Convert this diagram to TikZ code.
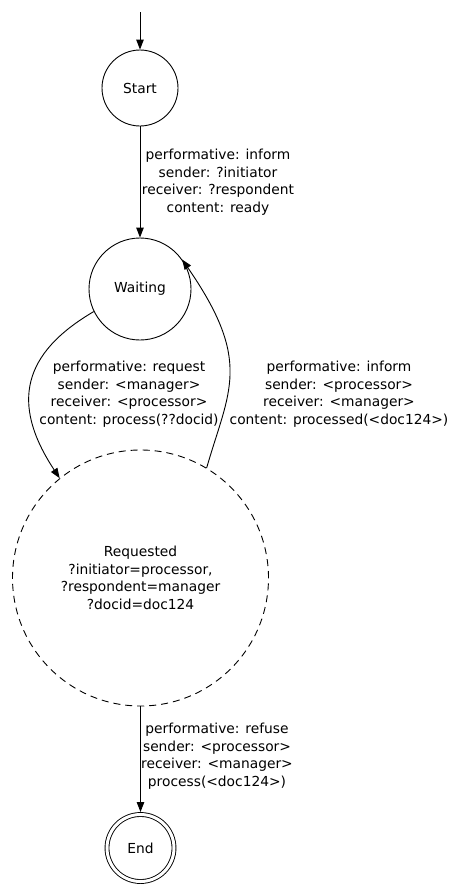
\documentclass[tikz,border=0pt]{standalone}
\usepackage{fontspec}
\setmainfont{DejaVu Sans}
\usetikzlibrary{arrows.meta}
\begin{document}
\begin{tikzpicture}[x=1pt,y=-1pt,
  every node/.style={font=\fontsize{13.8}{17.6}\selectfont},
  state/.style={circle,draw,line width=0.9pt,inner sep=0pt},
  lbl/.style={align=center,inner sep=0pt},
  edge/.style={line width=0.9pt,-{Triangle[length=10pt,width=7.5pt]}}]
\useasboundingbox (0,0) rectangle (451,884);
\node[state,minimum size=76pt] (S) at (140,88) {Start};
\node[state,minimum size=102pt] (W) at (140,289) {Waiting};
\node[state,minimum size=256pt,dash pattern=on 7pt off 5pt,align=center] (R) at (140.5,578)
  {Requested\\?initiator=processor,\\?respondent=manager\\?docid=doc124};
\node[state,minimum size=67pt,double,double distance=3pt,outer sep=2.5pt] (E) at (140.5,848) {End};
\coordinate (init) at (140,12);
\draw[edge] (init) -- (S);
\draw[edge] (S) -- (W);
\draw[edge] (W.206) .. controls (23,353) and (10,403) .. (R.129);
\draw[edge] (R.59) .. controls (229,390) and (253,362) .. (W.35);
\draw[edge] (R) -- (E);
\node[lbl] (l1) at (218,182) {performative: inform\\sender: ?initiator\\receiver: ?respondent\\content: ready};
\node[lbl] (l2) at (129,394) {performative: request\\sender: <manager>\\receiver: <processor>\\content: process(??docid)};
\node[lbl] (l3) at (339,394) {performative: inform\\sender: <processor>\\receiver: <manager>\\content: processed(<doc124>)};
\node[lbl] (l4) at (217,756) {performative: refuse\\sender: <processor>\\receiver: <manager>\\process(<doc124>)};
\end{tikzpicture}
\end{document}
